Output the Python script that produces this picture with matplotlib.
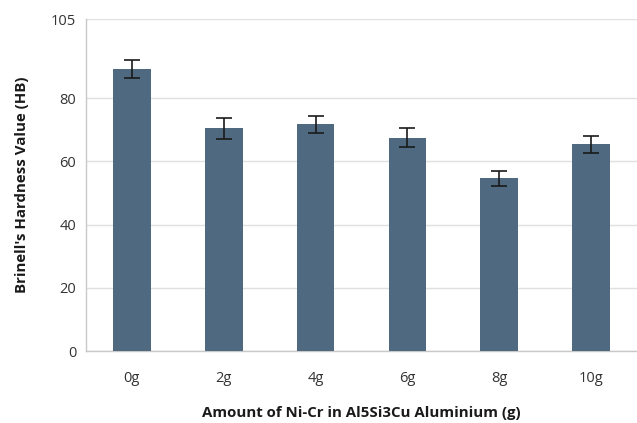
import matplotlib.pyplot as plt

plt.rcParams['font.family'] = ['Open Sans', 'DejaVu Sans']

# data
amounts = ['0g', '2g', '4g', '6g', '8g', '10g']
hardness = [89.2, 70.4, 71.7, 67.5, 54.6, 65.4]
errors = [2.8, 3.2, 2.7, 2.9, 2.4, 2.7]
yticks = [0, 20, 40, 60, 80, 105]

fig = plt.figure(figsize=(6.37, 4.23), dpi=100)
ax = fig.add_axes([0.135, 0.17, 0.865, 0.785])

x = range(len(amounts))
ax.bar(x, hardness, width=0.41, color='#4f6981', zorder=3)
ax.errorbar(x, hardness, yerr=errors, fmt='none', ecolor='#1a1a1a',
            elinewidth=1.2, capsize=6, capthick=1.2, zorder=4)

ax.set_xlim(-0.5, len(amounts) - 0.5)
ax.set_ylim(0, 105)
ax.set_yticks(yticks)
ax.set_xticks(list(x))
ax.set_xticklabels(amounts)
ax.grid(axis='y', color='#e0e0e0', linewidth=1, zorder=0)
ax.tick_params(length=0, labelsize=10.5, labelcolor='#333333')
ax.tick_params(axis='y', pad=7)
ax.tick_params(axis='x', pad=14)

for s in ['top', 'right']:
    ax.spines[s].set_visible(False)
for s in ['left', 'bottom']:
    ax.spines[s].set_color('#c8c8c8')
    ax.spines[s].set_linewidth(1)

ax.set_xlabel('Amount of Ni-Cr in Al5Si3Cu Aluminium (g)', fontsize=10.8,
              fontweight='bold', color='#1a1a1a', labelpad=15)
ax.set_ylabel("Brinell's Hardness Value (HB)", fontsize=10.8,
              fontweight='bold', color='#1a1a1a', labelpad=16)

fig.savefig('out.png', dpi=100)
